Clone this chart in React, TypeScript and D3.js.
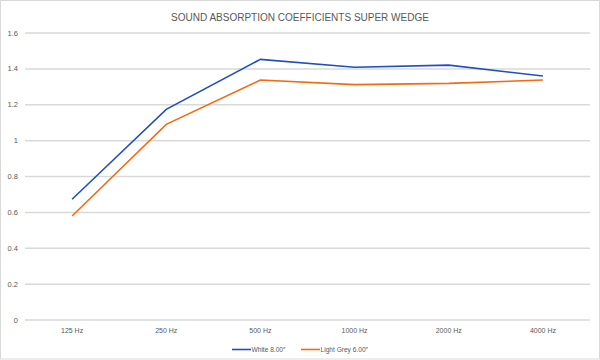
import React from "react";
import * as d3 from "d3";

const categories = ["125 Hz", "250 Hz", "500 Hz", "1000 Hz", "2000 Hz", "4000 Hz"];
const whiteValues = [0.673, 1.174, 1.453, 1.409, 1.421, 1.36];
const greyValues = [0.58, 1.091, 1.338, 1.312, 1.319, 1.338];
const yTicks = [0, 0.2, 0.4, 0.6, 0.8, 1, 1.2, 1.4, 1.6];
const seriesNames = ["White 8.00\u2033", "Light Grey 6.00\u2033"];
const colors = ["#2150B8", "#F26B12"];
const title = "SOUND ABSORPTION COEFFICIENTS SUPER WEDGE";

export default function App() {
  const W = 600, H = 360;
  const left = 25, right = 590, top = 33, bottom = 320;
  const x = d3.scaleBand<string>().domain(categories).range([left, right]);
  const y = d3.scaleLinear().domain([0, 1.6]).range([bottom, top]);
  const line = d3
    .line<number>()
    .x((_, i) => (x(categories[i]) as number) + x.bandwidth() / 2)
    .y((d) => y(d));
  const series = [whiteValues, greyValues];
  const font = "'Liberation Sans', Arial, sans-serif";
  const legendX = [232, 301];
  return (
    <svg
      width={W}
      height={H}
      style={{ position: "absolute", left: 0, top: 0, background: "#fff" }}
      fontFamily={font}
    >
      <rect x={0.5} y={0.5} width={W - 1} height={H - 1.5} fill="#fff" stroke="#d9d9d9" />
      <text x={300} y={20.5} textAnchor="middle" fontSize={10} fill="#595959">
        {title}
      </text>
      {yTicks.map((t) => (
        <g key={t}>
          <line x1={left} x2={right} y1={y(t)} y2={y(t)} stroke="#d9d9d9" strokeWidth={1.5} />
          <text x={18} y={y(t) + 2.5} textAnchor="end" fontSize={7.5} fill="#595959">
            {d3.format("~g")(t)}
          </text>
        </g>
      ))}
      {categories.map((c) => (
        <text
          key={c}
          x={(x(c) as number) + x.bandwidth() / 2}
          y={333}
          textAnchor="middle"
          fontSize={7}
          fill="#595959"
        >
          {c}
        </text>
      ))}
      {series.map((s, i) => (
        <path key={i} d={line(s) || ""} fill="none" stroke={colors[i]} strokeWidth={1.6} />
      ))}
      {seriesNames.map((n, i) => {
        const lx = legendX[i];
        return (
          <g key={n}>
            <line x1={lx} x2={lx + 19} y1={349.5} y2={349.5} stroke={colors[i]} strokeWidth={1.6} />
            <text x={lx + 19.5} y={352} fontSize={6.6} fill="#595959">
              {n}
            </text>
          </g>
        );
      })}
    </svg>
  );
}
